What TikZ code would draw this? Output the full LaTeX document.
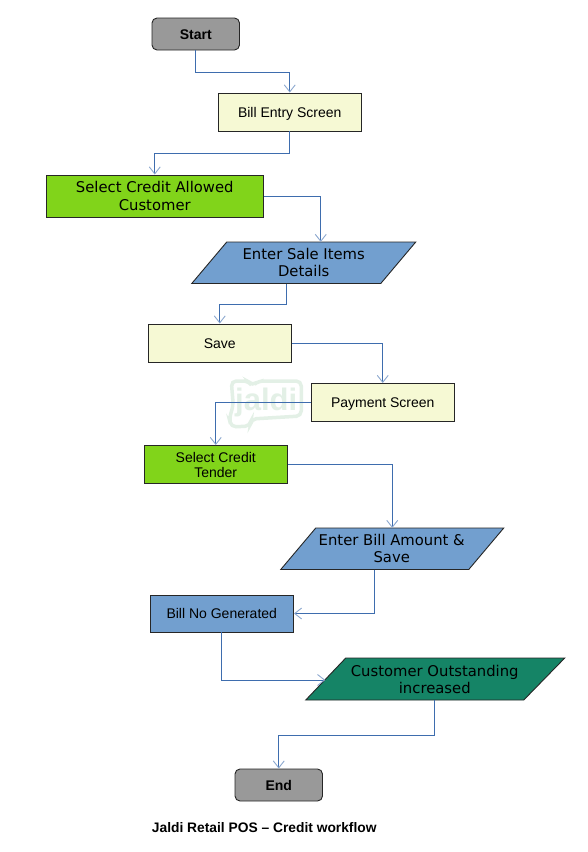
\documentclass[tikz,border=0pt]{standalone}
\usepackage{fontspec}
\usepackage{xcolor}
\setmainfont{Liberation Sans}
\newfontfamily\dejafont{DejaVu Sans}
\usetikzlibrary{arrows.meta}
\definecolor{startgray}{HTML}{999999}
\definecolor{screenyellow}{HTML}{F6F9D4}
\definecolor{creditgreen}{HTML}{81D41A}
\definecolor{entryblue}{HTML}{729FCF}
\definecolor{outteal}{HTML}{158466}
\definecolor{flowblue}{HTML}{3E6DAE}
\definecolor{markgreen}{HTML}{E3F0E6}
\tikzset{
    box/.style={draw=black!85, line width=0.9pt, inner sep=0pt, align=center, font=\fontsize{14}{15}\selectfont},
    oneline/.style={text height=11pt, text depth=1pt},
    endbox/.style={box, oneline, fill=startgray, rounded corners=5pt, minimum width=87.5pt, minimum height=32pt, font=\fontsize{14}{16}\selectfont\bfseries},
    screenbox/.style={box, oneline, fill=screenyellow, minimum width=143.5pt, minimum height=38pt},
    creditbox/.style={box, fill=creditgreen, minimum width=143.5pt, minimum height=38pt},
    bluebox/.style={box, oneline, fill=entryblue, minimum width=143.5pt, minimum height=37pt},
    para/.style={draw=black!85, line width=0.9pt},
    paratext/.style={inner sep=0pt, align=center, font=\dejafont\fontsize{14.8}{17}\selectfont},
    marktext/.style={anchor=base, font=\fontsize{31}{31}\selectfont\bfseries},
    flow/.style={draw=flowblue, line width=0.9pt, ->, >={Straight Barb[length=7pt,width=11pt,color=flowblue!60]}}
}
\begin{document}
\begin{tikzpicture}[x=1pt, y=-1pt]
    \useasboundingbox (-0.25, 0) rectangle (587.75, 852);
    % watermark, rim then letters
    \draw[markgreen, line width=3.5pt, fill=white, rounded corners=5pt] (231, 381) -- (248, 381) -- (252, 386) -- (258, 381) -- (301, 381) -- (301, 416) -- (251, 419) -- (250, 426) -- (231, 427) -- (229, 419) -- (233, 405) -- cycle;
    \node[marktext, text=markgreen] (mark) at (266, 410) {jaldi};

    % parallelograms
    \filldraw[para, fill=entryblue] (226.5, 242) -- (415.5, 242) -- (380.5, 283.5) -- (191.5, 283.5) -- cycle;
    \filldraw[para, fill=entryblue] (315.5, 528) -- (503.5, 528) -- (468.5, 569.5) -- (280.5, 569.5) -- cycle;
    \filldraw[para, fill=outteal] (345.5, 658) -- (564.5, 658) -- (523.5, 700) -- (305.5, 700) -- cycle;

    \node[endbox] (start) at (195.5, 34) {Start};
    \node[screenbox] (billentry) at (289.5, 112) {Bill Entry Screen};
    \node[box, fill=creditgreen, minimum width=217.5pt, minimum height=42pt, font=\dejafont\fontsize{14.8}{18}\selectfont] (selectcustomer) at (154.5, 196) {Select Credit Allowed\\Customer};
    \node[paratext] (saleitems) at (303.5, 262.5) {Enter Sale Items\\Details};
    \node[screenbox] (save) at (219.5, 343) {Save};
    \node[screenbox] (payment) at (382.5, 402.5) {Payment Screen};
    \node[creditbox] (selecttender) at (215.5, 464.5) {Select Credit\\Tender};
    \node[paratext] (billamount) at (391.5, 548.5) {Enter Bill Amount \&\\Save};
    \node[bluebox] (billno) at (221.5, 613.5) {Bill No Generated};
    \node[paratext] (outstanding) at (434.5, 679.5) {Customer Outstanding\\increased};
    \node[endbox] (end) at (278.5, 785) {End};
    \node[font=\fontsize{13.8}{16}\selectfont\bfseries] (title) at (264, 828) {Jaldi Retail POS -- Credit workflow};

    \coordinate (salein) at (320.5, 242);
    \coordinate (saleout) at (286.5, 283.5);
    \coordinate (amountin) at (392, 528);
    \coordinate (amountout) at (374.5, 569.5);
    \coordinate (outin) at (325, 680);
    \coordinate (outout) at (434.5, 700);

    \draw[flow] (start.south) |- (289.5, 72) -- (billentry.north);
    \draw[flow] (billentry.south) |- (154.5, 153) -- (selectcustomer.north);
    \draw[flow] (selectcustomer.east) -| (salein);
    \draw[flow] (saleout) |- (219.5, 304) -- (save.north);
    \draw[flow] (save.east) -| (payment.north);
    \draw[flow] (payment.west) -| (selecttender.north);
    \draw[flow] (selecttender.east) -| (amountin);
    \draw[flow] (amountout) |- (billno.east);
    \draw[flow] (billno.south) |- (outin);
    \draw[flow] (outout) |- (278.5, 735) -- (end.north);
\end{tikzpicture}
\end{document}
